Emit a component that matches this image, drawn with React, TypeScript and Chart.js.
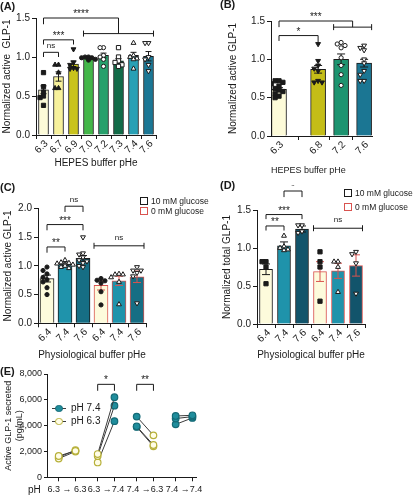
import React, { useEffect, useRef } from 'react';
import { Chart, registerables } from 'chart.js';
Chart.register(...registerables);

const FONT = '"Liberation Sans", Arial, Helvetica, sans-serif';
const INK = '#1a1a1a';
const RED = '#d9534f';

// ---------------- Panel A data ----------------
const aLabels = ['6.3', '6.7', '6.9', '7.0', '7.2', '7.3', '7.4', '7.6'];
const aMeans = [0.58, 0.75, 0.91, 0.99, 1.02, 0.95, 1.02, 1.01];
const aSems = [0.05, 0.06, 0.04, 0.02, 0.03, 0.03, 0.04, 0.06];
const aPoints = [
  [0.8, 0.62, 0.55, 0.5, 0.48, 0.38],
  [0.9, 0.9, 0.8, 0.6, 0.6],
  [1.1, 0.93, 0.9, 0.86, 0.85, 0.85],
  [1.0, 1.0, 0.99, 0.99, 0.97, 0.96],
  [1.12, 1.12, 1.02, 1.0, 0.97, 0.88],
  [1.12, 1.0, 0.95, 0.93, 0.9, 0.88],
  [1.18, 1.02, 1.0, 0.98, 0.97, 0.85],
  [1.18, 1.18, 1.0, 0.97, 0.9, 0.82],
];
const aBrackets = [
  { from: 0, to: 1, y: 1.06, drop: [0.06, 0.06], text: 'ns' },
  { from: 0, to: 2, y: 1.22, drop: [0.06, 0.06], text: '***' },
  { from: 0, to: 5, y: 1.5, drop: [0.08, 0.2], text: '****' },
];
const aWhiskers = [{ from: 3, to: 7, y: 1.3, text: '' }];

// ---------------- Panel B data ----------------
const bLabels = ['6.3', '6.8', '7.2', '7.6'];
const bMeans = [0.61, 0.87, 1.0, 0.95];
const bSems = [0.02, 0.05, 0.07, 0.05];
const bPoints = [
  [0.72, 0.72, 0.7, 0.68, 0.65, 0.62, 0.6, 0.58, 0.55, 0.52, 0.5],
  [1.2, 0.98, 0.92, 0.88, 0.85, 0.72, 0.7, 0.7],
  [1.22, 1.2, 1.18, 1.15, 1.02, 0.92, 0.8, 0.66],
  [1.18, 1.15, 1.12, 1.0, 0.95, 0.85, 0.8, 0.72, 0.72],
];
const bBrackets = [
  { from: 0, to: 1, y: 1.31, drop: [0.07, 0.1], text: '*' },
  { from: 0, to: 2.5, y: 1.5, drop: [0.08, 0.08], text: '***' },
];
const bWhiskers = [{ from: 2, to: 3, y: 1.42, text: '' }];

// ---------------- Panel C data ----------------
const cLabels = ['6.4', '7.4', '7.6', '6.4', '7.4', '7.6'];
const cMeans = [0.78, 1.03, 1.13, 0.66, 0.74, 0.81];
const cSems = [0.06, 0.02, 0.05, 0.08, 0.08, 0.1];
const cPoints = [
  [0.98, 0.92, 0.86, 0.8, 0.76, 0.72, 0.62, 0.5],
  [1.1, 1.06, 1.05, 1.04, 1.03, 1.02, 1.0, 0.98, 0.96],
  [1.5, 1.22, 1.2, 1.15, 1.1, 1.08, 1.05, 1.0, 0.98],
  [0.78, 0.75, 0.74, 0.7, 0.55, 0.32],
  [0.86, 0.85, 0.85, 0.8, 0.72, 0.33],
  [0.98, 0.92, 0.92, 0.88, 0.82, 0.35],
];
const cBrackets = [
  { from: 0, to: 1, y: 1.33, drop: [0.1, 0.08], text: '**' },
  { from: 0, to: 2, y: 1.72, drop: [0.1, 0.1], text: '***' },
  { from: 1, to: 2, y: 2.04, drop: [0.1, 0.1], text: 'ns' },
];
const cWhiskers = [{ from: 3, to: 5, y: 1.35, text: 'ns' }];

// ---------------- Panel D data ----------------
const dLabels = ['6.4', '7.4', '7.6', '6.4', '7.4', '7.6'];
const dMeans = [0.72, 1.03, 1.25, 0.69, 0.7, 0.77];
const dSems = [0.07, 0.05, 0.04, 0.13, 0.1, 0.14];
const dPoints = [
  [0.82, 0.82, 0.75, 0.53],
  [1.16, 1.02, 1.0, 0.98, 0.97],
  [1.3, 1.3, 1.22, 1.2],
  [0.95, 0.82, 0.75, 0.3],
  [0.82, 0.82, 0.75, 0.42],
  [0.95, 0.92, 0.8, 0.4],
];
const dBrackets = [
  { from: 0, to: 1, y: 1.29, drop: [0.06, 0.06], text: '**' },
  { from: 0, to: 2, y: 1.44, drop: [0.06, 0.06], text: '***' },
  { from: 1, to: 2, y: 1.75, drop: [0.08, 0.08], text: '*' },
];
const dWhiskers = [{ from: 3, to: 5, y: 1.26, text: 'ns' }];

// ---------------- Panel E data ----------------
const eGroups = ['6.3 \u2192 6.3', '6.3 \u21927.4', '7.4 \u21926.3', '7.4 \u21927.4'];
const ePreState = ['6.3', '6.3', '7.4', '7.4'];
const ePostState = ['6.3', '7.4', '6.3', '7.4'];
const ePre = [
  [1650, 1450, 1550],
  [1800, 1650, 1150],
  [4700, 3950, 3900],
  [4750, 4550, 4100],
];
const ePost = [
  [2050, 2000, 2100],
  [6200, 5550, 4350],
  [3250, 2500, 2400],
  [4800, 4700, 4600],
];
const eBrackets = [
  { group: 1, y: 7200, drop: 500, text: '*' },
  { group: 2, y: 7200, drop: 500, text: '**' },
];
const eYTicks = [0, 2000, 4000, 6000, 8000];

// ---------------- styles ----------------
const MK: Record<string, { style: string; rot: number; filled: boolean; r: number }> = {
  sq: { style: 'rect', rot: 0, filled: true, r: 3.0 },
  tri: { style: 'triangle', rot: 0, filled: true, r: 2.8 },
  itri: { style: 'triangle', rot: 180, filled: true, r: 2.8 },
  circ: { style: 'circle', rot: 0, filled: true, r: 2.1 },
  osq: { style: 'rect', rot: 0, filled: false, r: 3.0 },
  otri: { style: 'triangle', rot: 0, filled: false, r: 2.8 },
  oitri: { style: 'triangle', rot: 180, filled: false, r: 2.8 },
  ocirc: { style: 'circle', rot: 0, filled: false, r: 2.1 },
};

const TEAL = '#1f8d9c';
const TEAL_EDGE = '#146a76';
const YEL_EDGE = '#b7b03a';
const YEL_FILL = '#fffde6';

function swarm(vals: number[], dy: number, dx: number): number[] {
  const placed: { x: number; y: number }[] = [];
  const cand = [0, -1, 1, -2, 2];
  return vals.map((v) => {
    let best = 0;
    let bestC = Infinity;
    for (const c of cand) {
      const x = c * dx;
      const conf = placed.filter((p) => Math.abs(p.y - v) < dy && Math.abs(p.x - x) < dx * 0.9).length;
      if (conf < bestC) {
        bestC = conf;
        best = x;
      }
      if (conf === 0) break;
    }
    placed.push({ x: best, y: v });
    return best;
  });
}

function barPanelConfig(p: any) {
  const g = p.geom;
  const posAt = (t: number) => {
    const f = Math.floor(t);
    const c = Math.ceil(t);
    return p.pos[f] + (t - f) * (p.pos[c] - p.pos[f]);
  };
  const datasets: any[] = [
    {
      type: 'bar',
      data: p.means.map((m: number, i: number) => ({ x: p.pos[i], y: m })),
      backgroundColor: p.colors,
      borderColor: p.borders,
      borderWidth: 1,
      barThickness: p.barPx,
      order: 3,
    },
  ];
  p.points.forEach((vals: number[], i: number) => {
    const mk = MK[p.markers[i]];
    const offs = swarm(vals, p.swarmDy, p.swarmDx);
    datasets.push({
      type: 'scatter',
      data: vals.map((v, j) => ({ x: p.pos[i] + offs[j], y: v })),
      pointStyle: mk.style,
      pointRotation: mk.rot,
      pointRadius: mk.r,
      pointHoverRadius: mk.r,
      pointBackgroundColor: mk.filled ? INK : '#ffffff',
      pointBorderColor: INK,
      pointBorderWidth: 1,
      order: 1,
    });
  });

  const plugin = {
    id: 'annot',
    afterDatasetDraw(chart: any, args: any) {
      if (args.meta.type !== 'bar') return;
      const ctx = chart.ctx;
      const xs = chart.scales.x;
      const ys = chart.scales.y;
      ctx.save();
      ctx.lineWidth = 1;
      p.means.forEach((m: number, i: number) => {
        const x = xs.getPixelForValue(p.pos[i]);
        const y1 = ys.getPixelForValue(m + p.sems[i]);
        const y2 = ys.getPixelForValue(m - p.sems[i]);
        const cw = p.capPx;
        ctx.strokeStyle = p.errColors[i];
        ctx.beginPath();
        ctx.moveTo(x, y1);
        ctx.lineTo(x, y2);
        ctx.moveTo(x - cw, y1);
        ctx.lineTo(x + cw, y1);
        ctx.moveTo(x - cw, y2);
        ctx.lineTo(x + cw, y2);
        ctx.stroke();
      });
      ctx.restore();
    },
    afterDraw(chart: any) {
      const ctx = chart.ctx;
      const xs = chart.scales.x;
      const ys = chart.scales.y;
      ctx.save();
      ctx.strokeStyle = INK;
      ctx.fillStyle = INK;
      ctx.lineWidth = 1;
      ctx.textAlign = 'center';
      ctx.textBaseline = 'alphabetic';
      const label = (t: string, x: number, y: number) => {
        if (!t) return;
        const ns = t === 'ns';
        ctx.font = `${ns ? 8 : 10}px ${FONT}`;
        ctx.fillText(t, x, y - (ns ? 4 : 1));
      };
      p.brackets.forEach((b: any) => {
        const x1 = xs.getPixelForValue(posAt(b.from));
        const x2 = xs.getPixelForValue(posAt(b.to));
        const y = ys.getPixelForValue(b.y);
        ctx.beginPath();
        ctx.moveTo(x1, ys.getPixelForValue(b.y - b.drop[0]));
        ctx.lineTo(x1, y);
        ctx.lineTo(x2, y);
        ctx.lineTo(x2, ys.getPixelForValue(b.y - b.drop[1]));
        ctx.stroke();
        label(b.text, (x1 + x2) / 2, y);
      });
      p.whiskers.forEach((w: any) => {
        const x1 = xs.getPixelForValue(p.pos[w.from]) - p.barPx / 2;
        const x2 = xs.getPixelForValue(p.pos[w.to]) + p.barPx / 2;
        const y = ys.getPixelForValue(w.y);
        ctx.beginPath();
        ctx.moveTo(x1, y);
        ctx.lineTo(x2, y);
        ctx.moveTo(x1, y - 3);
        ctx.lineTo(x1, y + 3);
        ctx.moveTo(x2, y - 3);
        ctx.lineTo(x2, y + 3);
        ctx.stroke();
        label(w.text, (x1 + x2) / 2, y - 2);
      });
      // rotated category labels (45 degrees)
      ctx.font = `10px ${FONT}`;
      ctx.textAlign = 'right';
      ctx.textBaseline = 'middle';
      p.labels.forEach((t: string, i: number) => {
        const x = xs.getPixelForValue(p.pos[i]);
        ctx.save();
        ctx.translate(x + 3, xs.top + 7);
        ctx.rotate(-Math.PI / 4);
        ctx.fillText(t, 0, 0);
        ctx.restore();
      });
      ctx.restore();
    },
  };

  return {
    type: 'bar',
    data: { datasets },
    plugins: [plugin],
    options: {
      responsive: false,
      maintainAspectRatio: false,
      animation: false,
      devicePixelRatio: 1,
      events: [],
      layout: { padding: { left: 0, top: g.t, right: g.w - g.r, bottom: 0 } },
      plugins: { legend: { display: false }, tooltip: { enabled: false } },
      scales: {
        x: {
          type: 'linear',
          min: p.xMin,
          max: p.xMax,
          offset: false,
          afterBuildTicks: (s: any) => {
            s.ticks = p.pos.map((v: number) => ({ value: v }));
          },
          ticks: { display: false },
          grid: { drawOnChartArea: false, drawTicks: true, tickLength: 4, color: INK },
          border: { color: INK, width: 1 },
          title: {
            display: true,
            text: p.xTitle,
            align: p.xTitleAlign || 'center',
            font: { family: FONT, size: p.xTitleSize || 10 },
            color: INK,
            padding: { top: 0, bottom: g.xTitlePad },
          },
          afterFit: (s: any) => {
            s.height = g.h - g.b;
          },
        },
        y: {
          min: 0,
          max: p.yMax,
          ticks: {
            stepSize: 0.5,
            callback: (v: any) => Number(v).toFixed(1),
            font: { family: FONT, size: 10 },
            color: INK,
            padding: 2,
          },
          grid: { drawOnChartArea: false, drawTicks: true, tickLength: 4, color: INK },
          border: { color: INK, width: 1 },
          title: {
            display: true,
            text: p.yTitle,
            font: { family: FONT, size: 10 },
            color: INK,
            padding: { top: g.yTitlePad, bottom: 0 },
          },
          afterFit: (s: any) => {
            s.width = g.l;
          },
        },
      },
    },
  };
}

const GA = { left: 0, top: 0, w: 170, h: 172, l: 36, t: 18, r: 156, b: 135, yTitlePad: 1, xTitlePad: 3 };
const GB = { left: 205, top: 0, w: 175, h: 180, l: 66, t: 21, r: 167, b: 136, yTitlePad: 22, xTitlePad: 4 };
const GC = { left: 0, top: 185, w: 150, h: 177, l: 38, t: 23.5, r: 146, b: 138.3, yTitlePad: 2.5, xTitlePad: 1 };
const GD = { left: 205, top: 185, w: 170, h: 177, l: 52, t: 25, r: 160, b: 139, yTitlePad: 16, xTitlePad: 1 };
const GE = { left: 0, top: 365, w: 205, h: 135, l: 47, t: 9, r: 197, b: 112.3 };

const panelA = {
  geom: GA,
  labels: aLabels,
  pos: aLabels.map((_, i) => i),
  xMin: -0.5,
  xMax: 7.5,
  means: aMeans,
  sems: aSems,
  points: aPoints,
  colors: ['#fdfbd9', '#f7f19c', '#c9c31d', '#43b649', '#27a06c', '#126b48', '#28a0b5', '#1b7795'],
  borders: INK,
  errColors: aLabels.map(() => INK),
  markers: ['sq', 'tri', 'itri', 'circ', 'ocirc', 'osq', 'otri', 'oitri'],
  barPx: 10,
  capPx: 3,
  swarmDx: 0.23,
  swarmDy: 0.05,
  yMax: 1.5,
  yTitle: 'Normalized active  GLP-1',
  xTitle: 'HEPES buffer pHe',
  brackets: aBrackets,
  whiskers: aWhiskers,
};

const panelB = {
  geom: GB,
  labels: bLabels,
  pos: bLabels.map((_, i) => (i === 0 ? 0 : i + 0.7)),
  xMin: -0.348,
  xMax: 4.043,
  means: bMeans,
  sems: bSems,
  points: bPoints,
  colors: ['#fdfbd9', '#c4bd17', '#1d9470', '#1b7693'],
  borders: INK,
  errColors: bLabels.map(() => INK),
  markers: ['sq', 'itri', 'ocirc', 'oitri'],
  barPx: 15,
  capPx: 4,
  swarmDx: 0.17,
  swarmDy: 0.05,
  yMax: 1.5,
  yTitle: 'Normalized active GLP-1',
  xTitle: 'HEPES buffer pHe',
  xTitleAlign: 'start',
  xTitleSize: 9,
  brackets: bBrackets,
  whiskers: bWhiskers,
};

const panelC = {
  geom: GC,
  labels: cLabels,
  pos: cLabels.map((_, i) => i),
  xMin: -0.5,
  xMax: 5.5,
  means: cMeans,
  sems: cSems,
  points: cPoints,
  colors: ['#fdfbdc', '#1f93ab', '#166e84', '#fdfbdc', '#1f93ab', '#166e84'],
  borders: [INK, INK, INK, RED, RED, RED],
  errColors: [INK, INK, INK, RED, RED, RED],
  markers: ['circ', 'otri', 'oitri', 'circ', 'otri', 'oitri'],
  barPx: 14,
  capPx: 4,
  swarmDx: 0.22,
  swarmDy: 0.07,
  yMax: 2.0,
  yTitle: 'Normalized active GLP-1',
  xTitle: 'Physiological buffer pHe',
  brackets: cBrackets,
  whiskers: cWhiskers,
};

const panelD = {
  geom: GD,
  labels: dLabels,
  pos: dLabels.map((_, i) => i),
  xMin: -0.5,
  xMax: 5.5,
  means: dMeans,
  sems: dSems,
  points: dPoints,
  colors: ['#fdfbdc', '#1f93ab', '#12546b', '#fdfbdc', '#1f93ab', '#12546b'],
  borders: [INK, INK, INK, RED, RED, RED],
  errColors: [INK, INK, INK, RED, RED, RED],
  markers: ['sq', 'otri', 'oitri', 'sq', 'otri', 'oitri'],
  barPx: 13,
  capPx: 4,
  swarmDx: 0.22,
  swarmDy: 0.05,
  yMax: 1.5,
  yTitle: 'Normalized total GLP-1',
  xTitle: 'Physiological buffer pHe',
  brackets: dBrackets,
  whiskers: dWhiskers,
};

const PAIR = 0.43;

function panelEConfig() {
  const g = GE;
  const fill = (s: string) => (s === '7.4' ? TEAL : YEL_FILL);
  const edge = (s: string) => (s === '7.4' ? TEAL_EDGE : YEL_EDGE);
  const datasets: any[] = [];
  ePre.forEach((pre, gi) => {
    pre.forEach((v, k) => {
      datasets.push({
        type: 'line',
        data: [
          { x: gi, y: v },
          { x: gi + PAIR, y: ePost[gi][k] },
        ],
        borderColor: '#3c3c3c',
        borderWidth: 1,
        pointRadius: 3.3,
        pointBorderWidth: 1.2,
        pointBackgroundColor: [fill(ePreState[gi]), fill(ePostState[gi])],
        pointBorderColor: [edge(ePreState[gi]), edge(ePostState[gi])],
        fill: false,
      });
    });
  });
  const xMin = -0.3;
  const xMax = xMin + (g.r - g.l) / 39;
  const plugin = {
    id: 'ebr',
    afterDraw(chart: any) {
      const ctx = chart.ctx;
      const xs = chart.scales.x;
      const ys = chart.scales.y;
      ctx.save();
      ctx.strokeStyle = INK;
      ctx.fillStyle = INK;
      ctx.lineWidth = 1;
      ctx.textAlign = 'center';
      ctx.font = `10px ${FONT}`;
      eBrackets.forEach((b) => {
        const x1 = xs.getPixelForValue(b.group);
        const x2 = xs.getPixelForValue(b.group + PAIR);
        const y = ys.getPixelForValue(b.y);
        const yl = ys.getPixelForValue(b.y - b.drop);
        ctx.beginPath();
        ctx.moveTo(x1, yl);
        ctx.lineTo(x1, y);
        ctx.lineTo(x2, y);
        ctx.lineTo(x2, yl);
        ctx.stroke();
        ctx.fillText(b.text, (x1 + x2) / 2, y - 1);
      });
      ctx.restore();
    },
  };
  return {
    type: 'line',
    data: { datasets },
    plugins: [plugin],
    options: {
      responsive: false,
      maintainAspectRatio: false,
      animation: false,
      devicePixelRatio: 1,
      events: [],
      layout: { padding: { left: 0, top: g.t, right: g.w - g.r, bottom: 0 } },
      plugins: { legend: { display: false }, tooltip: { enabled: false } },
      scales: {
        x: {
          type: 'linear',
          min: xMin,
          max: xMax,
          weight: 0,
          afterBuildTicks: (s: any) => {
            s.ticks = eGroups.flatMap((_, gi) => [{ value: gi }, { value: gi + PAIR }]);
          },
          ticks: { display: false },
          grid: { drawOnChartArea: false, drawTicks: true, tickLength: 4, color: INK },
          border: { color: INK, width: 1 },
          afterFit: (s: any) => {
            s.height = 5;
          },
        },
        x2: {
          type: 'linear',
          position: 'bottom',
          min: xMin,
          max: xMax,
          weight: 1,
          afterBuildTicks: (s: any) => {
            s.ticks = eGroups.map((_, gi) => ({ value: gi + PAIR / 2 }));
          },
          ticks: {
            autoSkip: false,
            maxRotation: 0,
            minRotation: 0,
            callback: (_v: any, i: number) => eGroups[i],
            font: { family: FONT, size: 9 },
            color: INK,
            padding: 2,
          },
          grid: { display: false, drawTicks: false },
          border: { display: false },
          afterFit: (s: any) => {
            s.height = g.h - g.b - 5;
          },
        },
        y: {
          min: 0,
          max: 8000,
          afterBuildTicks: (s: any) => {
            s.ticks = eYTicks.map((v) => ({ value: v }));
          },
          ticks: {
            callback: (v: any) => Number(v).toLocaleString('en-US'),
            font: { family: FONT, size: 9 },
            color: INK,
            padding: 2,
          },
          grid: { drawOnChartArea: false, drawTicks: true, tickLength: 3, color: INK },
          border: { color: INK, width: 1 },
          title: {
            display: true,
            text: ['Active GLP-1 secreted', '(pg/mL)'],
            font: { family: FONT, size: 9 },
            color: INK,
            padding: { top: 3, bottom: 0 },
          },
          afterFit: (s: any) => {
            s.width = g.l;
          },
        },
      },
    },
  };
}

function ChartBox({ box, make }: { box: any; make: () => any }) {
  const ref = useRef<HTMLCanvasElement>(null);
  useEffect(() => {
    const chart = new Chart(ref.current as HTMLCanvasElement, make() as any);
    return () => chart.destroy();
  }, []);
  return (
    <canvas
      ref={ref}
      width={box.w}
      height={box.h}
      style={{ position: 'absolute', left: box.left, top: box.top, width: box.w, height: box.h }}
    />
  );
}

function Txt({ x, y, size, bold, children }: any) {
  return (
    <span
      style={{
        position: 'absolute',
        left: x,
        top: y,
        transform: 'translateY(-50%)',
        fontSize: size,
        lineHeight: 1,
        fontWeight: bold ? 700 : 400,
        whiteSpace: 'nowrap',
        fontFamily: FONT,
        color: INK,
      }}
    >
      {children}
    </span>
  );
}

function SqLegend({ x, y, color, label }: any) {
  return (
    <>
      <div
        style={{
          position: 'absolute',
          left: x,
          top: y - 4,
          width: 8,
          height: 8,
          boxSizing: 'border-box',
          border: `1px solid ${color}`,
          background: '#fff',
        }}
      />
      <Txt x={x + 11} y={y} size={8.5}>
        {label}
      </Txt>
    </>
  );
}

function LineLegend({ x, y, fill, edge, label }: any) {
  return (
    <>
      <div style={{ position: 'absolute', left: x, top: y, width: 14, height: 0, borderTop: '1px solid #3c3c3c' }} />
      <div
        style={{
          position: 'absolute',
          left: x + 7 - 3.6,
          top: y + 0.5 - 3.6,
          width: 7.2,
          height: 7.2,
          boxSizing: 'border-box',
          borderRadius: '50%',
          background: fill,
          border: `1.2px solid ${edge}`,
        }}
      />
      <Txt x={x + 19} y={y} size={10}>
        {label}
      </Txt>
    </>
  );
}

export default function App() {
  return (
    <div
      style={{
        position: 'fixed',
        left: 0,
        top: 0,
        width: 413,
        height: 500,
        background: '#fff',
        overflow: 'hidden',
      }}
    >
      <ChartBox box={GA} make={() => barPanelConfig(panelA)} />
      <ChartBox box={GB} make={() => barPanelConfig(panelB)} />
      <ChartBox box={GC} make={() => barPanelConfig(panelC)} />
      <ChartBox box={GD} make={() => barPanelConfig(panelD)} />
      <ChartBox box={GE} make={panelEConfig} />

      <Txt x={0} y={6} size={11} bold>
        (A)
      </Txt>
      <Txt x={220} y={4} size={11} bold>
        (B)
      </Txt>
      <Txt x={0} y={187} size={11} bold>
        (C)
      </Txt>
      <Txt x={220} y={185} size={11} bold>
        (D)
      </Txt>
      <Txt x={0} y={371} size={11} bold>
        (E)
      </Txt>

      <SqLegend x={140} y={201} color={INK} label="10 mM glucose" />
      <SqLegend x={140} y={211} color={RED} label="0 mM glucose" />
      <SqLegend x={344} y={193} color={INK} label="10 mM glucose" />
      <SqLegend x={344} y={206.5} color={RED} label="0 mM glucose" />

      <LineLegend x={52} y={408} fill={TEAL} edge={TEAL_EDGE} label="pH 7.4" />
      <LineLegend x={52} y={421} fill={YEL_FILL} edge={YEL_EDGE} label="pH 6.3" />

      <Txt x={28} y={490} size={10}>
        pH
      </Txt>
    </div>
  );
}
